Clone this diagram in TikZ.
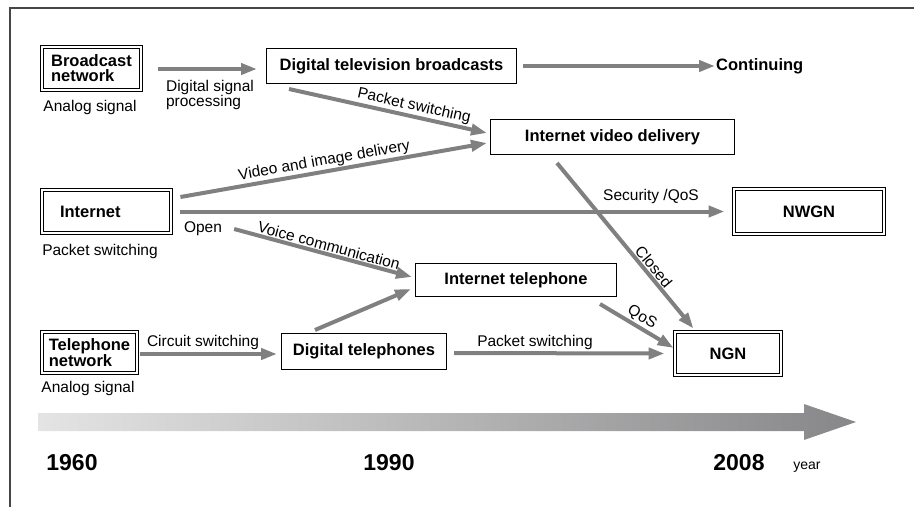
\documentclass[tikz,border=0pt]{standalone}
\usepackage{fontspec}
\setmainfont{Liberation Sans}
\usetikzlibrary{arrows.meta,calc}
\definecolor{arrgray}{RGB}{128,128,128}
\definecolor{framegray}{RGB}{70,70,70}
\definecolor{tlleft}{RGB}{228,228,228}
\definecolor{tlright}{RGB}{135,135,137}
\begin{document}
\begin{tikzpicture}[x=1pt,y=-1pt,
  font=\fontsize{15.5}{17}\selectfont,
  bfont/.style={font=\fontsize{16.5}{15}\selectfont\bfseries},
  box/.style={draw=black, line width=1.3pt, inner sep=0pt, bfont},
  dbox/.style={draw=black, line width=1.1pt, double, double distance=2pt, inner sep=0pt, bfont, align=left},
  arr/.style={draw=arrgray, line width=4pt, -{Triangle[length=16pt,width=11pt]}},
  lbl/.style={inner sep=1pt},
  yearlbl/.style={font=\fontsize{23}{23}\selectfont\bfseries, inner sep=0pt},
]
\useasboundingbox (0,0) rectangle (914,507);
% frame
\draw[framegray, line width=1.2pt] (10,507) -- (10,8) -- (914,8);

% nodes
\node[dbox, minimum width=98.8pt, minimum height=42.8pt] (bcast) at (91.5,68.5) {Broadcast\\network};
\node[lbl] (bsig) at (90,107) {Analog signal};
\node[lbl, align=left, font=\fontsize{15.5}{14}\selectfont] (dsp) at (210,95) {Digital signal\\processing};
\node[box, minimum width=249.7pt, minimum height=34.7pt] (dtv) at (391.5,66) {Digital television broadcasts};
\node[inner sep=1pt, bfont, anchor=west] (cont) at (715,66) {Continuing};
\node[box, minimum width=243.7pt, minimum height=34.7pt] (ivd) at (612.5,137) {Internet video delivery};
\node[dbox, minimum width=128.8pt, minimum height=42.8pt, text width=93pt] (inet) at (106.5,211.5) {Internet};
\node[lbl] (ipk) at (100,251) {Packet switching};
\node[lbl] (open) at (203,229) {Open};
\node[dbox, minimum width=149.8pt, minimum height=44.8pt] (nwgn) at (809,211.5) {NWGN};
\node[lbl] (secq) at (651,196) {Security /QoS};
\node[box, minimum width=200.7pt, minimum height=32.7pt] (itel) at (516,280) {Internet telephone};
\node[dbox, minimum width=94.8pt, minimum height=40.8pt] (tel) at (89.5,352.5) {Telephone\\network};
\node[lbl] (tsig) at (88,388) {Analog signal};
\node[lbl] (circ) at (203,342) {Circuit switching};
\node[box, minimum width=164.7pt, minimum height=35.7pt] (dt) at (364,351.5) {Digital telephones};
\node[lbl] (tpk) at (535,342) {Packet switching};
\node[dbox, minimum width=105.8pt, minimum height=42.8pt] (ngn) at (728,353.5) {NGN};

% connectors
\draw[arr] ($(bcast.east)+(17,0.5)$) -- ($(dtv.west)+(-9,3)$);
\draw[arr] ($(dtv.east)+(6,0)$) -- (cont.west);
\draw[arr] ($(dtv.south west)+(23,5)$) -- node[lbl, sloped, above, pos=0.62] (lps) {Packet switching} ($(ivd.west)+(-3,-4)$);
\draw[arr] ($(inet.east)+(9,-14.5)$) -- node[lbl, sloped, above, pos=0.475] (lvid) {Video and image delivery} ($(ivd.west)+(-3,6)$);
\draw[arr] ($(inet.east)+(9,0)$) -- ($(nwgn.west)+(-9,0)$);
\draw[arr] ($(open.east)+(11,0)$) -- node[lbl, sloped, above, pos=0.52] (lvoi) {Voice communication} ($(itel.west)+(-3,-3)$);
\draw[arr] ($(dt.north west)+(34,-3)$) -- ($(itel.west)+(-4,9)$);
\draw[arr] ($(tel.east)+(3,1.5)$) -- ($(dt.west)+(-4,2.5)$);
\draw[arr] ($(dt.east)+(7,1.5)$) -- ($(ngn.west)+(-10,0)$);
\draw[arr] ($(itel.south east)+(-17,7)$) -- node[lbl, sloped, above, pos=0.5] (lqos) {QoS} ($(ngn.west)+(-1,-5.5)$);
\draw[arr] ($(ivd.south west)+(67,8)$) -- node[lbl, sloped, above, pos=0.66] (lclo) {Closed} ($(ngn.north west)+(19,-3)$);

% timeline
\path[left color=tlleft, right color=tlright]
  (38,413) -- (804,413) -- (804,404) -- (856,422) -- (804,440) -- (804,431) -- (38,431) -- cycle;
\node[yearlbl] (y1960) at (72,463) {1960};
\node[yearlbl] (y1990) at (389,463) {1990};
\node[yearlbl] (y2008) at (739,463) {2008};
\node[font=\fontsize{14}{14}\selectfont, inner sep=0pt] (yr) at (807,467) {year};
\end{tikzpicture}
\end{document}
